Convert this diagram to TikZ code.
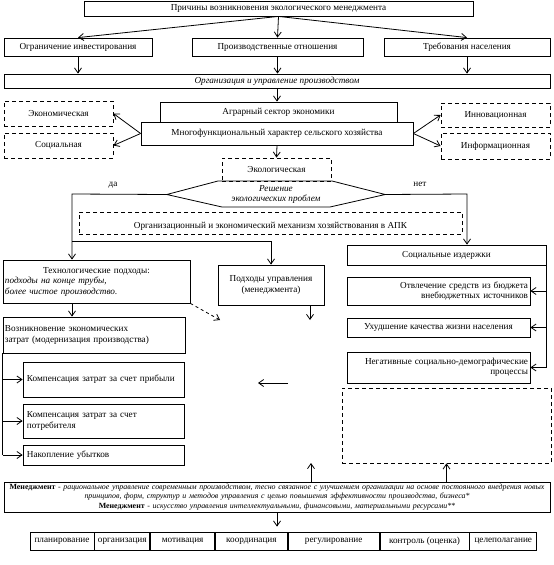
\documentclass[tikz,border=0pt]{standalone}
\usepackage{fontspec}
\setmainfont{Liberation Serif}
\usetikzlibrary{arrows.meta, positioning}
\newcommand{\diagfont}{\fontsize{9.2}{10.5}\selectfont}

\begin{document}
\begin{tikzpicture}[
    x=1pt, y=-1pt,
    every node/.style={font=\diagfont},
    box/.style={draw, rectangle, inner sep=1pt, line width=0.8pt},
    dbox/.style={box, dash pattern=on 4pt off 3pt},
    cell/.style={box, minimum height=18, inner sep=0pt},
    conn/.style={line width=0.8pt},
    arrow/.style={-{Straight Barb[length=5pt, width=7pt]}, line width=0.8pt},
    darrow/.style={arrow, dash pattern=on 3pt off 3pt}
]
\useasboundingbox (0,0) rectangle (554,565);

% Причины
\node[box, minimum width=389, minimum height=15] (prich) at (278.5,8.5) {Причины возникновения экологического менеджмента};
\node[box, minimum width=148, minimum height=18] (ogr) at (78,47) {Ограничение инвестирования};
\node[box, minimum width=171, minimum height=18] (proizv) at (277.5,47) {Производственные отношения};
\node[box, minimum width=166, minimum height=18] (treb) at (467,47) {Требования населения};
\node[box, minimum width=546, minimum height=14] (orgupr) at (277,81) {\itshape Организация и управление производством};

\foreach \nm in {ogr,proizv,treb} {
  \draw[arrow] (prich.south) -- (\nm.north);
  \draw[arrow] (\nm.south) -- (\nm.south |- orgupr.north);
}

% Сельское хозяйство
\node[box, minimum width=237, minimum height=20] (agr) at (278.5,112) {Аграрный сектор экономики};
\node[box, minimum width=272, minimum height=23] (mnogo) at (277,133.5) {Многофункциональный характер сельского хозяйства};
\draw[arrow] (orgupr.south) -- (orgupr.south |- agr.north);

% Функции
\node[dbox, minimum width=109, minimum height=25] (ekon) at (58.5,113.5) {Экономическая};
\node[dbox, minimum width=109, minimum height=25] (socf) at (58.5,145.5) {Социальная};
\node[dbox, minimum width=109, minimum height=24] (innov) at (495.5,115) {Инновационная};
\node[dbox, minimum width=109, minimum height=26] (inform) at (495.5,146) {Информационная};
\node[dbox, minimum width=109, minimum height=23] (ekol) at (276.5,169.5) {Экологическая};

\draw[arrow] (mnogo.west) -- (ekon.east);
\draw[arrow] (mnogo.west) -- (socf.east);
\draw[arrow] (mnogo.east) -- (innov.west);
\draw[arrow] (mnogo.east) -- (inform.west);
\draw[arrow] (mnogo.south) -- (ekol.north);

% Решение
\node[minimum width=218, minimum height=26, inner sep=0pt, align=center] (resh) at (276,194.5) {\itshape Решение\\\itshape экологических проблем};
\draw[conn] (resh.west) -- (218,181) -- (332,181) -- (resh.east) -- (330,207) -- (222,207) -- cycle;
\node (da) at (113,185) {да};
\node (net) at (420,184) {нет};

\node[dbox, minimum width=383, minimum height=22, text height=12pt, text depth=2pt] (mehan) at (270.5,223) {Организационный и экономический механизм хозяйствования в АПК};

\coordinate (levo) at (72,194);
\coordinate (levo2) at (72,241);
\coordinate (pravo) at (467,194);

% Да
\node[box, minimum width=187, minimum height=43, text width=183, align=left, inner sep=2pt] (tehn) at (96.5,281.5) {\makebox[183pt]{Технологические подходы:}\\\textit{подходы на конце трубы,}\\\textit{более чистое производство.}};
\node[box, minimum width=106, minimum height=40, align=center] (upr) at (271,285) {Подходы управления\\(менеджмента)};
\draw[arrow] (resh.west) -- (levo) -- (levo |- tehn.north);
\draw[arrow] (levo2) -| (upr.north);

\node[box, minimum width=182, minimum height=36, text width=178, align=left] (vozn) at (94,335) {Возникновение экономических\\затрат (модернизация производства)};
\node[box, minimum width=161, minimum height=35, text width=153, align=left, inner sep=4pt] (komp1) at (103.5,379.5) {Компенсация затрат за счет прибыли};
\node[box, minimum width=161, minimum height=34, text width=153, align=left, inner sep=4pt] (komp2) at (103.5,421) {Компенсация затрат за счет\\потребителя};
\node[box, minimum width=161, minimum height=20, text width=153, align=left, inner sep=4pt] (ubyt) at (103.5,455) {Накопление убытков};
\draw[arrow] (levo |- tehn.south) -- (levo |- vozn.north);
\draw[conn] (vozn.south west) -- (vozn.south west |- ubyt.west);
\foreach \nm in {komp1,komp2,ubyt}
  \draw[arrow] (vozn.south west |- \nm.west) -- (\nm.west);

\coordinate (tehnout) at (220,320);
\coordinate (uprout) at (310,320);
\draw[darrow] (tehn.south east) -- (tehnout);
\draw[arrow] (uprout |- upr.south) -- (uprout);

\coordinate (strA) at (288,383);
\coordinate (strB) at (258,383);
\draw[arrow] (strA) -- (strB);

% Нет
\node[box, minimum width=199, minimum height=20] (socizd) at (446.5,255) {Социальные издержки};
\node[box, minimum width=183, minimum height=28, text width=179, align=right] (otvl) at (438.5,291) {Отвлечение средств из бюджета\\внебюджетных источников};
\node[box, minimum width=183, minimum height=19] (uhud) at (438.5,327.5) {Ухудшение качества жизни населения};
\node[box, minimum width=183, minimum height=31, text width=179, align=right] (negat) at (438.5,367.5) {Негативные социально-демографические\\процессы};
\draw[arrow] (resh.east) -- (pravo) -- (pravo |- socizd.north);
\draw[conn] (socizd.south east) -- (socizd.south east |- negat.east);
\foreach \nm in {otvl,uhud,negat}
  \draw[arrow] (socizd.south east |- \nm.east) -- (\nm.east);

\node[dbox, minimum width=209, minimum height=75] (pusto) at (446.5,425.5) {};

% Менеджмент
\node[box, minimum width=546, minimum height=30, text width=542, align=center, inner xsep=2pt, inner ysep=0.5pt, font=\fontsize{7.9}{9.4}\selectfont] (opred) at (277,497) {\textbf{Менеджмент} - \textit{рациональное управление современным производством, тесно связанное с улучшением организации на основе постоянного внедрения новых}\\\textit{принципов, форм, структур и методов управления с целью повышения эффективности производства, бизнеса*}\\\textbf{Менеджмент} - \textit{искусство управления интеллектуальными, финансовыми, материальными ресурсами**}};

\coordinate (vverh) at (311,463);
\draw[arrow] (vverh |- opred.north) -- (vverh);
\draw[arrow] (pusto.south |- opred.north) -- (pusto.south);

% Функции управления
\node[cell, minimum width=64] (plan) at (62,541) {планирование};
\node[cell, minimum width=55, right=0pt of plan] (organ) {организация};
\node[cell, minimum width=64, right=0pt of organ] (motiv) {мотивация};
\node[cell, minimum width=72, right=0pt of motiv] (koord) {координация};
\node[cell, minimum width=91, right=0pt of koord] (regul) {регулирование};
\node[cell, minimum width=89, right=0pt of regul] (kontr) {контроль (оценка)};
\node[cell, minimum width=67, right=0pt of kontr] (celep) {целеполагание};

\draw[arrow, shorten >=5pt] (opred.south) -- (opred.south |- koord.north);

\end{tikzpicture}
\end{document}
